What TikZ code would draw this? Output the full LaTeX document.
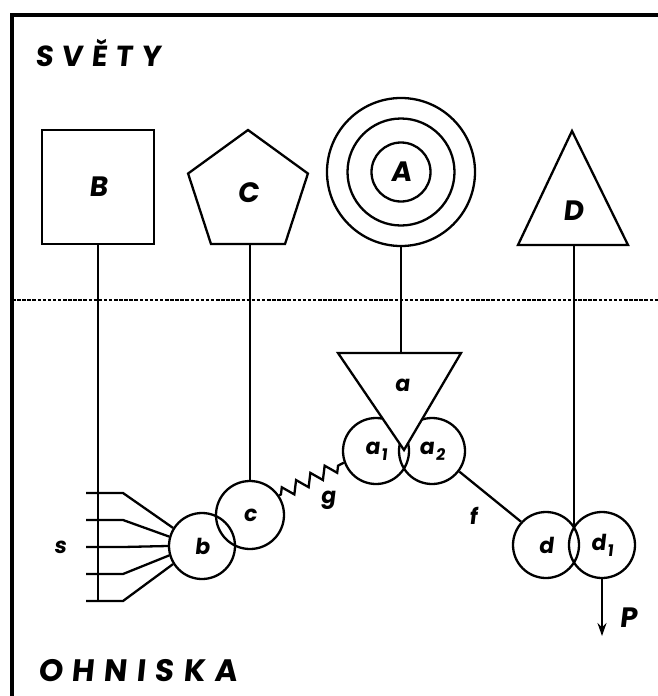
\documentclass[tikz,border=0pt]{standalone}
\usepackage{fontspec}
\setmainfont{Poppins}
\newfontfamily\labfont[FakeSlant=0.12]{Poppins}
\newfontfamily\headfont[FakeSlant=0.1,LetterSpace=30]{Poppins}
\usetikzlibrary{shapes.geometric,decorations.pathmorphing,arrows.meta}
\newcommand\subx[1]{\kern1.5pt\raisebox{-6pt}{\fontsize{16}{16}\selectfont #1}}
\begin{document}
\begin{tikzpicture}[x=1pt,y=-1pt,
  shp/.style={draw,line width=2.3pt},
  circ/.style={shp,circle,inner sep=0pt},
  lab/.style={font=\labfont\bfseries\fontsize{28}{28}\selectfont,inner sep=0pt},
  sml/.style={font=\labfont\bfseries\fontsize{22}{22}\selectfont,inner sep=0pt},
  wire/.style={line width=2.3pt},
]
\useasboundingbox (0,0) rectangle (658,696);
% frame and divider
\draw[line width=3.2pt] (12,698) -- (12,15) -- (660,15);
\draw[line width=2.4pt, dash pattern=on 3.5pt off 1.6pt] (12,300) -- (658,300);
% headings
\node[anchor=base west,inner sep=0pt] (svety) at (35,66) {\headfont\bfseries\fontsize{29}{29}\selectfont SVĚTY};
\node[anchor=base west,inner sep=0pt] (ohn) at (38,681) {\headfont\bfseries\fontsize{31}{31}\selectfont OHNISKA};
% worlds
\node[shp,minimum width=112pt,minimum height=114pt,inner sep=0pt,lab] (B) at (98,187) {B};
\node[shp,regular polygon,regular polygon sides=5,minimum size=126pt,inner sep=0pt,lab] (C) at (248,193) {C};
\node[circ,minimum size=148pt] (A3) at (401,172) {};
\node[circ,minimum size=107pt] (A2) at (401,172) {};
\node[circ,minimum size=59pt,lab] (A) at (401,172) {A};
\coordinate (Dt) at (572,131);
\coordinate (Dl) at (518,245);
\coordinate (Dr) at (628,245);
\draw[shp,line join=miter] (Dt) -- (Dr) -- (Dl) -- cycle;
\node[lab] (D) at (573,211) {D};
\coordinate (Db) at (574,245);
% foci
\node[circ,minimum size=66pt,sml] (b) at (202,546) {b};
\node[circ,minimum size=68pt,sml] (c) at (250,515) {c};
\node[circ,minimum size=66pt,sml] (a1) at (376,451) {a\subx{1}};
\node[circ,minimum size=66pt,sml] (a2) at (432,451) {a\subx{2}};
\node[circ,minimum size=66pt,sml] (d) at (546,545) {d};
\node[circ,minimum size=66pt,sml] (d1) at (602,545) {d\subx{1}};
\coordinate (atl) at (338,353);
\coordinate (atr) at (461,353);
\coordinate (aap) at (404,450);
\draw[shp,fill=white,line join=miter] (atl) -- (atr) -- (aap) -- cycle;
\node[sml] (a) at (402,385) {a};
% fan s
\foreach \i/\yy/\ang in {1/493/148,2/520/164,3/547/180,4/574/196,5/601/212} {
  \coordinate (sl\i) at (86,\yy);
  \coordinate (sk\i) at (123,\yy);
  \draw[wire,line join=miter] (sl\i) -- (sk\i) -- (b.\ang);
}
\draw[wire] (B.south) -- (B.south |- sl5);
\node[sml] (s) at (60,547) {s};
% connectors
\draw[wire] (c.north) -- (c.north |- C.south);
\draw[wire] (A3.south) -- (A3.south |- atl);
\coordinate (dj) at (574,527.5);
\draw[wire] (Db) -- (dj);
\draw[wire,decorate,decoration={zigzag,segment length=16pt,amplitude=6pt,pre length=2pt,post length=2pt}] (c.34) -- (a1.200);
\node[sml] (g) at (328,500) {g};
\draw[wire] (a2.-37) -- (d.137);
\node[sml] (f) at (473,516) {f};
\coordinate (pend) at (602,636);
\draw[wire,-{Stealth[length=13pt,width=9pt]}] (d1.south) -- (pend);
\node[lab] (P) at (628,618) {P};
\end{tikzpicture}
\end{document}
